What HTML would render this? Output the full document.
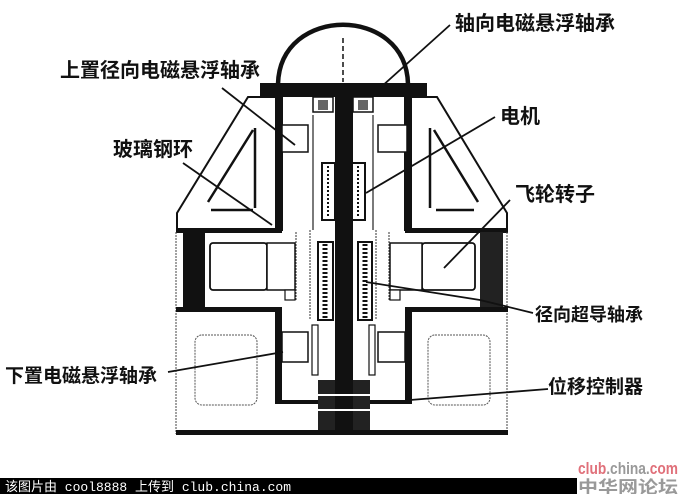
<!DOCTYPE html>
<html><head><meta charset="utf-8"><style>
html,body{margin:0;padding:0;background:#fff;}
svg{display:block}
.l{font-family:"Liberation Sans","Noto Sans CJK SC",sans-serif;font-weight:bold;fill:#111}
</style></head><body>
<svg width="679" height="494" viewBox="0 0 679 494" xmlns="http://www.w3.org/2000/svg">
<rect width="679" height="494" fill="#fff"/>
<!-- dome -->
<path d="M278 84 C280 5 406 5 408 84" fill="none" stroke="#111" stroke-width="4.5"/>
<line x1="343" y1="38" x2="343" y2="82" stroke="#111" stroke-width="1.5" stroke-dasharray="5,3"/>
<rect x="260" y="83" width="167" height="14" fill="#111"/>
<!-- upper trapezoids -->
<path d="M248 97 L177 213 L177 230 L282 230 L282 97 Z" fill="none" stroke="#111" stroke-width="2"/>
<path d="M437 97 L507 213 L507 230 L405 230 L405 97 Z" fill="none" stroke="#111" stroke-width="2"/>
<rect x="275" y="97" width="7" height="135" fill="#111"/>
<rect x="405" y="97" width="7" height="135" fill="#111"/>
<rect x="176" y="228" width="106" height="5" fill="#111"/>
<rect x="405" y="228" width="103" height="5" fill="#111"/>
<!-- triangles -->
<path d="M255 128 L255 208 M253 130 L208 202 M211 210 L253 210" stroke="#111" stroke-width="2.5" fill="none"/>
<path d="M430 128 L430 208 M434 130 L478 202 M436 210 L474 210" stroke="#111" stroke-width="2.5" fill="none"/>
<!-- middle region -->
<line x1="176" y1="232" x2="176" y2="434" stroke="#444" stroke-width="1" stroke-dasharray="2,1"/>
<line x1="507" y1="232" x2="507" y2="434" stroke="#444" stroke-width="1" stroke-dasharray="2,1"/>
<rect x="183" y="232" width="22" height="78" fill="#111"/>
<rect x="480" y="232" width="23" height="78" fill="#222"/>
<rect x="210" y="243" width="57" height="47" rx="3" fill="#fff" stroke="#111" stroke-width="1.8"/>
<rect x="267" y="243" width="28" height="47" fill="#fff" stroke="#111" stroke-width="1.5"/>
<rect x="285" y="290" width="10" height="10" fill="#fff" stroke="#111" stroke-width="1.2"/>
<rect x="422" y="243" width="53" height="47" rx="3" fill="#fff" stroke="#111" stroke-width="1.8"/>
<rect x="390" y="243" width="32" height="47" fill="#fff" stroke="#111" stroke-width="1.5"/>
<rect x="390" y="290" width="10" height="10" fill="#fff" stroke="#111" stroke-width="1.2"/>
<line x1="296" y1="232" x2="296" y2="300" stroke="#333" stroke-width="1" stroke-dasharray="2,1"/>
<line x1="389" y1="232" x2="389" y2="300" stroke="#333" stroke-width="1" stroke-dasharray="2,1"/>
<rect x="176" y="307" width="106" height="5" fill="#111"/>
<rect x="405" y="307" width="103" height="5" fill="#111"/>
<!-- lower region -->
<rect x="275" y="307" width="7" height="97" fill="#111"/>
<rect x="405" y="307" width="7" height="97" fill="#111"/>
<rect x="282" y="400" width="123" height="4" fill="#111"/>
<rect x="195" y="335" width="62" height="70" rx="7" fill="none" stroke="#555" stroke-width="1" stroke-dasharray="2,1"/>
<rect x="428" y="335" width="62" height="70" rx="7" fill="none" stroke="#555" stroke-width="1" stroke-dasharray="2,1"/>
<rect x="176" y="430" width="332" height="5" fill="#111"/>
<rect x="282" y="332" width="26" height="30" fill="#fff" stroke="#111" stroke-width="1.5"/>
<rect x="378" y="332" width="27" height="30" fill="#fff" stroke="#111" stroke-width="1.5"/>
<rect x="312" y="325" width="6" height="50" fill="none" stroke="#111" stroke-width="1.2"/>
<rect x="369" y="325" width="6" height="50" fill="none" stroke="#111" stroke-width="1.2"/>
<!-- upper bearings -->
<rect x="282" y="125" width="26" height="27" fill="#fff" stroke="#111" stroke-width="1.5"/>
<rect x="378" y="125" width="29" height="27" fill="#fff" stroke="#111" stroke-width="1.5"/>
<rect x="313" y="97" width="20" height="15" fill="#fff" stroke="#111" stroke-width="1.5"/>
<rect x="353" y="97" width="20" height="15" fill="#fff" stroke="#111" stroke-width="1.5"/>
<rect x="318" y="100" width="10" height="10" fill="#666"/>
<rect x="358" y="100" width="10" height="10" fill="#666"/>
<!-- shaft -->
<line x1="313" y1="115" x2="313" y2="230" stroke="#222" stroke-width="1.2"/>
<line x1="373" y1="115" x2="373" y2="230" stroke="#222" stroke-width="1.2"/>
<line x1="310" y1="230" x2="310" y2="320" stroke="#333" stroke-width="1" stroke-dasharray="2,1"/>
<line x1="376" y1="230" x2="376" y2="320" stroke="#333" stroke-width="1" stroke-dasharray="2,1"/>
<rect x="335" y="83" width="18" height="350" fill="#111"/>
<rect x="322" y="163" width="13" height="57" fill="#fff" stroke="#111" stroke-width="2"/>
<rect x="352" y="163" width="13" height="57" fill="#fff" stroke="#111" stroke-width="2"/>
<line x1="328" y1="166" x2="328" y2="218" stroke="#111" stroke-width="2" stroke-dasharray="2,2"/>
<line x1="358" y1="166" x2="358" y2="218" stroke="#111" stroke-width="2" stroke-dasharray="2,2"/>
<rect x="318" y="242" width="15" height="78" fill="#fff" stroke="#111" stroke-width="2"/>
<rect x="358" y="242" width="14" height="78" fill="#fff" stroke="#111" stroke-width="2"/>
<line x1="325" y1="244" x2="325" y2="318" stroke="#111" stroke-width="5" stroke-dasharray="2,2"/>
<line x1="365" y1="244" x2="365" y2="318" stroke="#111" stroke-width="5" stroke-dasharray="2,2"/>
<rect x="318" y="380" width="17" height="50" fill="#222"/>
<rect x="353" y="380" width="17" height="50" fill="#222"/>
<line x1="318" y1="395" x2="370" y2="395" stroke="#fff" stroke-width="2"/>
<line x1="318" y1="410" x2="370" y2="410" stroke="#fff" stroke-width="2"/>
<!-- leader lines -->
<g stroke="#111" stroke-width="1.8">
<line x1="222" y1="88" x2="295" y2="145"/>
<line x1="183" y1="163" x2="272" y2="225"/>
<line x1="450" y1="25" x2="380" y2="88"/>
<line x1="495" y1="117" x2="366" y2="193"/>
<line x1="510" y1="200" x2="444" y2="268"/>
<polyline points="366,282 480,300 533,313" fill="none"/>
<line x1="168" y1="372" x2="283" y2="352"/>
<line x1="548" y1="389" x2="410" y2="400"/>
</g>
<!-- labels -->
<text class="l" x="60" y="77" font-size="20">上置径向电磁悬浮轴承</text>
<text class="l" x="113" y="156" font-size="20">玻璃钢环</text>
<text class="l" x="455" y="30" font-size="20">轴向电磁悬浮轴承</text>
<text class="l" x="500" y="123" font-size="20">电机</text>
<text class="l" x="515" y="201" font-size="20">飞轮转子</text>
<text class="l" x="535" y="321" font-size="18">径向超导轴承</text>
<text class="l" x="5" y="382" font-size="19">下置电磁悬浮轴承</text>
<text class="l" x="548" y="393" font-size="19">位移控制器</text>
<!-- footer -->
<rect x="0" y="478" width="577" height="16" fill="#000"/>
<text x="5" y="491" font-family="Liberation Mono,'Noto Sans CJK SC',monospace" font-size="13" fill="#fff">该图片由 cool8888 上传到 club.china.com</text>
<text x="578" y="474" font-family="Liberation Sans,sans-serif" font-size="17" font-weight="bold" fill="#e0707a" textLength="100" lengthAdjust="spacingAndGlyphs">club<tspan fill="#999">.china.</tspan>com</text>
<text x="578" y="493" font-family="'Noto Sans CJK SC',sans-serif" font-size="17" font-weight="bold" fill="#999" textLength="100" lengthAdjust="spacingAndGlyphs">中华网论坛</text>
</svg>
</body></html>
